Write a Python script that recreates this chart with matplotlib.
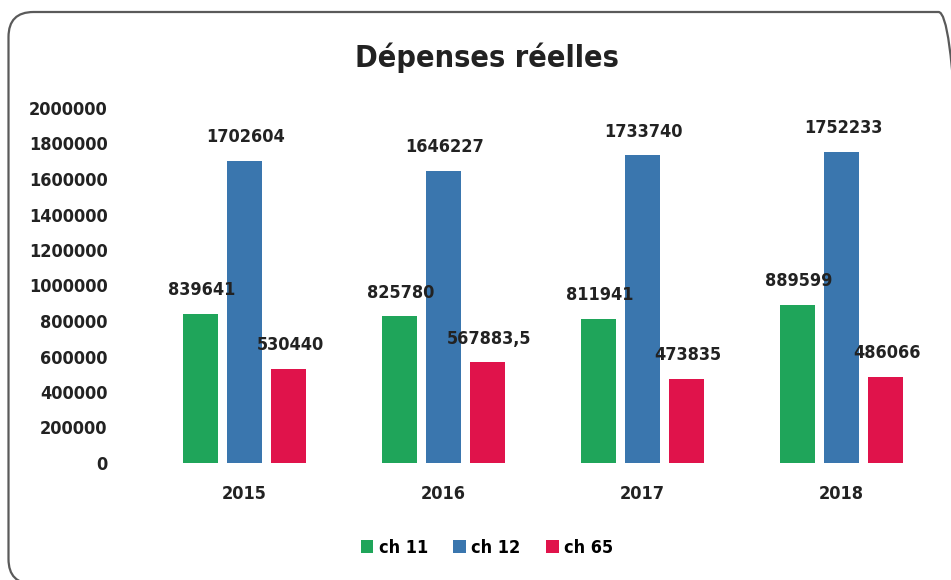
import numpy as np
import matplotlib.pyplot as plt
from matplotlib.patches import FancyBboxPatch

years = ['2015', '2016', '2017', '2018']
ch11 = [839641, 825780, 811941, 889599]
ch12 = [1702604, 1646227, 1733740, 1752233]
ch65 = [530440, 567883.5, 473835, 486066]
series_names = ['ch 11', 'ch 12', 'ch 65']
colors = ['#1fa55a', '#3a76ae', '#e0134b']

plt.rcParams['font.family'] = ['DejaVu Sans']
plt.rcParams['font.stretch'] = 'condensed'
plt.rcParams['font.weight'] = 'bold'

fig = plt.figure(figsize=(9.51, 5.8), dpi=100)
ax = fig.add_axes([145 / 951, 1 - 463 / 580, 796 / 951, 355 / 580])

# rounded frame around the chart (in inches, runs just off the right/bottom edge)
frame = FancyBboxPatch((0.085, -0.04), 9.55, 5.72, boxstyle='round,pad=0,rounding_size=0.25',
                       transform=fig.dpi_scale_trans, fill=False,
                       edgecolor='#5a5a5a', linewidth=1.6)
fig.patches.append(frame)

x = np.arange(len(years))
width = 0.175
offset = 0.222

for i, (vals, name, c) in enumerate(zip([ch11, ch12, ch65], series_names, colors)):
    pos = x + (i - 1) * offset
    ax.bar(pos, vals, width, color=c, label=name)
    for px, v in zip(pos, vals):
        txt = ('%.1f' % v).replace('.', ',') if v % 1 else '%d' % v
        ax.annotate(txt, (px, v), xytext=(1, 17), textcoords='offset points',
                    ha='center', va='center', fontsize=13, fontweight='bold',
                    color='#222222')

ax.set_xlim(-0.5, 3.5)
ax.set_ylim(0, 2000000)
ax.set_yticks(np.arange(0, 2000001, 200000))
ax.set_yticklabels([str(v) for v in range(0, 2000001, 200000)])
ax.set_xticks(x)
ax.set_xticklabels(years)
ax.tick_params(axis='y', length=0, pad=27, labelsize=13, labelcolor='#222222')
ax.tick_params(axis='x', length=0, pad=16, labelsize=13, labelcolor='#222222')
for s in ax.spines.values():
    s.set_visible(False)

fig.text(487 / 951, 1 - 58 / 580, 'Dépenses réelles', ha='center', va='center',
         fontsize=22, fontweight='bold', color='#222222')

fig.legend(loc='center', bbox_to_anchor=(487 / 951, 1 - 548 / 580), ncol=3,
           frameon=False, fontsize=13, handlelength=0.7, handleheight=0.7,
           handletextpad=0.3, columnspacing=1.4)

fig.savefig('out.png', dpi=100)
